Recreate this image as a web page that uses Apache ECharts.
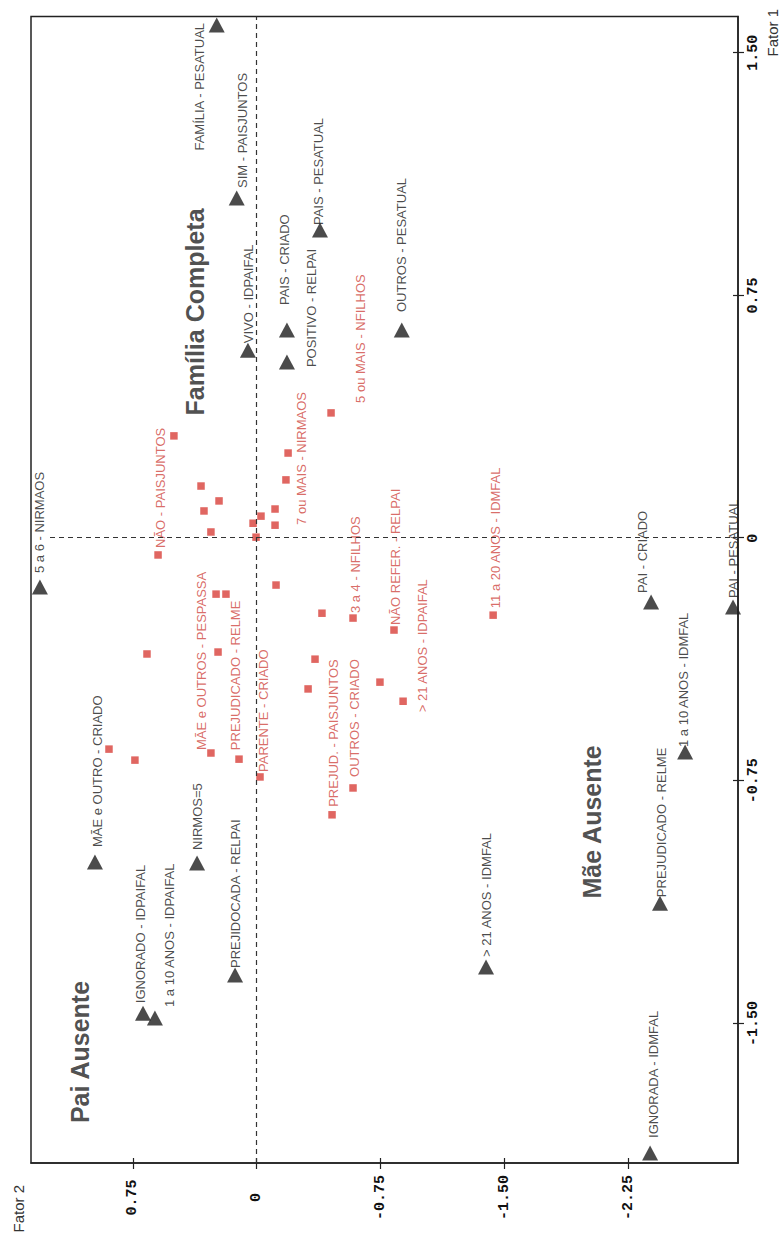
<!DOCTYPE html>
<html><head><meta charset="utf-8">
<script src="https://cdn.jsdelivr.net/npm/echarts@6.0.0/dist/echarts.min.js"></script>
<style>
html,body{margin:0;padding:0;background:#fff;width:782px;height:1241px;overflow:hidden;}
#chart{position:absolute;left:0;top:0;width:1241px;height:782px;transform-origin:0 0;transform:translate(0,1241px) rotate(-90deg);}
</style></head><body><div id="chart"></div>
<script>
// ---- data ----
const fator1Ticks = [-1.5, -0.75, 0, 0.75, 1.5];
const fator2Ticks = [-2.25, -1.5, -0.75, 0, 0.75];

const triangleLabels = ['FAMÍLIA - PESATUAL','SIM - PAISJUNTOS','VIVO - IDPAIFAL','PAIS - CRIADO','POSITIVO - RELPAI','PAIS - PESATUAL','OUTROS - PESATUAL','5 a 6 - NIRMAOS','PAI - CRIADO','PAI - PESATUAL','1 a 10 ANOS - IDMFAL','PREJUDICADO - RELME','> 21 ANOS - IDMFAL','IGNORADA - IDMFAL','MÃE e OUTRO - CRIADO','IGNORADO - IDPAIFAL','1 a 10 ANOS - IDPAIFAL','NIRMOS=5','PREJIDOCADA - RELPAI'];
const triangleFator1 = [1.586,1.051,0.581,0.643,0.544,0.952,0.643,-0.151,-0.197,-0.213,-0.661,-1.128,-1.325,-1.900,-1.001,-1.468,-1.483,-1.004,-1.350];
const triangleFator2 = [0.242,0.121,0.053,-0.183,-0.183,-0.383,-0.878,1.312,-2.387,-2.883,-2.593,-2.441,-1.388,-2.381,0.979,0.688,0.616,0.361,0.131];

const squareLabels = ['','NÃO - PAISJUNTOS','','','','','','','','','','7 ou MAIS - NIRMAOS','','5 ou MAIS - NFILHOS','','','','','','','','','3 a 4 - NFILHOS','NÃO REFER. - RELPAI','11 a 20 ANOS - IDMFAL','','> 21 ANOS - IDPAIFAL','','','MÃE e OUTROS - PESPASSA','PREJUDICADO - RELME','PARENTE - CRIADO','OUTROS - CRIADO','PREJUD. - PAISJUNTOS'];
const squareFator1 = [0.316,-0.052,0.161,0.084,0.115,0.019,0.046,0.068,0.003,0.090,0.040,0.180,0.263,0.387,-0.173,-0.173,-0.145,-0.358,-0.352,-0.232,-0.374,-0.466,-0.247,-0.284,-0.238,-0.445,-0.504,-0.652,-0.686,-0.664,-0.683,-0.738,-0.772,-0.855];
const squareFator2 = [0.501,0.597,0.337,0.319,0.228,0.277,0.022,-0.026,0.004,-0.111,-0.111,-0.177,-0.190,-0.450,0.246,0.186,-0.117,0.664,0.234,-0.395,-0.353,-0.311,-0.583,-0.831,-1.431,-0.746,-0.886,0.894,0.737,0.277,0.107,-0.020,-0.583,-0.456];

const regionLabels = ['Família Completa','Pai Ausente','Mãe Ausente'];
const regionFator1 = [0.699,-1.588,-0.877];
const regionFator2 = [0.373,1.070,-2.030];

// ---- layout (label placement, px in drawing frame) ----
const triangleLabelLayout = [[2,-17,'right'],[10,6],[7,1],[25,-2],[-5,25],[5,-1],[18,0],[14,0],[9,-9],[9,0],[5,-2],[6,1],[10,0],[15,3],[15,3],[10,-3],[11,15],[13,0],[7,0]];
const squareLabelLayout = {
  'NÃO - PAISJUNTOS':[7,2], '7 ou MAIS - NIRMAOS':[-45,16], '5 ou MAIS - NFILHOS':[10,29],
  '3 a 4 - NFILHOS':[5,2], 'NÃO REFER. - RELPAI':[5,1], '11 a 20 ANOS - IDMFAL':[7,2],
  '> 21 ANOS - IDPAIFAL':[-11,19], 'MÃE e OUTROS - PESPASSA':[3,-9], 'PREJUDICADO - RELME':[9,-4],
  'PARENTE - CRIADO':[5,3], 'OUTROS - CRIADO':[11,1], 'PREJUD. - PAISJUNTOS':[8,1]
};

const F1_MIN = -1.931, F1_MAX = 1.612, F2_MIN = -2.913, F2_MAX = 1.366;
const BLACK = '#1e1e1e', RED = '#d8403a', RED_TEXT = '#cf4640';
const labelFont = {fontFamily:'Liberation Sans, Arial, sans-serif', fontSize:13};
const tickFmt = v => (Math.abs(v) < 1e-9 ? '0' : v.toFixed(2));

const triData = triangleLabels.map((n,i) => {
  const L = triangleLabelLayout[i];
  return {name:n, value:[triangleFator1[i], triangleFator2[i]],
    label:{show:true, position:'inside', align:L[2]||'left', verticalAlign:'middle', offset:[L[0],L[1]]}};
});
const sqData = squareLabels.map((n,i) => {
  const L = squareLabelLayout[n];
  const item = {name:n, value:[squareFator1[i], squareFator2[i]]};
  item.label = L ? {show:true, position:'inside', align:'left', verticalAlign:'middle', offset:[L[0],L[1]]} : {show:false};
  return item;
});
const regData = regionLabels.map((n,i) => ({name:n, value:[regionFator1[i], regionFator2[i]]}));

const innerTickAxis = (min, max, pos, ticks) => ({type:'value', min:min, max:max, position:pos, offset:0,
  axisLine:{show:false, onZero:false}, axisLabel:{show:false}, splitLine:{show:false},
  axisTick:{show:true, inside:true, length:5, customValues:ticks, lineStyle:{color:'#222', width:1.2}}});

const chart = echarts.init(document.getElementById('chart'), null, {renderer:'svg'});
chart.setOption({
  animation:false,
  backgroundColor:'#fff',
  grid:{left:78, right:16.5, top:31, bottom:44, show:true, borderColor:'#222', borderWidth:1.5},
  xAxis:[{type:'value', min:F1_MIN, max:F1_MAX, position:'bottom',
    name:'Fator 1', nameLocation:'end', nameGap:-40,
    nameTextStyle:{fontFamily:'Liberation Sans, Arial, sans-serif', fontSize:15, color:'#333', align:'left', verticalAlign:'top', padding:[27,0,0,0]},
    axisLine:{show:true, onZero:false, lineStyle:{color:'#222', width:1.5}},
    axisTick:{show:true, length:6, customValues:fator1Ticks, lineStyle:{color:'#222', width:1.2}},
    axisLabel:{customValues:fator1Ticks, formatter:tickFmt, margin:8, fontFamily:'Liberation Mono, DejaVu Sans Mono, monospace', fontWeight:'bold', fontSize:15, color:'#111'},
    splitLine:{show:false}},
    innerTickAxis(F1_MIN, F1_MAX, 'bottom', fator1Ticks)],
  yAxis:[{type:'value', min:F2_MIN, max:F2_MAX, position:'left',
    name:'Fator 2', nameLocation:'end', nameGap:13,
    nameTextStyle:{fontFamily:'Liberation Sans, Arial, sans-serif', fontSize:15, color:'#333', align:'right', verticalAlign:'middle', padding:[0,22,0,0]},
    axisLine:{show:true, onZero:false, lineStyle:{color:'#222', width:1.5}},
    axisTick:{show:true, length:6, customValues:fator2Ticks, lineStyle:{color:'#222', width:1.2}},
    axisLabel:{customValues:fator2Ticks, formatter:tickFmt, margin:34.5, align:'center', fontFamily:'Liberation Mono, DejaVu Sans Mono, monospace', fontWeight:'bold', fontSize:15, color:'#111'},
    splitLine:{show:false}},
    innerTickAxis(F2_MIN, F2_MAX, 'left', fator2Ticks)],
  series:[
    {type:'scatter', name:'Categorias (quadrado)', symbol:'rect', symbolSize:7.5, itemStyle:{color:RED},
      label:Object.assign({formatter:p=>p.name, color:RED_TEXT}, labelFont),
      data:sqData,
      markLine:{silent:true, symbol:'none', label:{show:false},
        lineStyle:{color:'#333', width:1.2, type:[5,4]},
        data:[[{coord:[0, 1.251]},{coord:[0, F2_MIN]}],[{coord:[F1_MIN, 0]},{coord:[F1_MAX, 0]}]]}},
    {type:'scatter', name:'Categorias (triângulo)', symbol:'triangle', symbolSize:[16,15], symbolRotate:-90, itemStyle:{color:BLACK},
      label:Object.assign({formatter:p=>p.name, color:'#1a1a1a'}, labelFont),
      data:triData},
    {type:'scatter', name:'Grupos', symbolSize:0, silent:true,
      label:{show:true, position:'inside', align:'center', verticalAlign:'middle', formatter:p=>p.name,
        fontFamily:'Liberation Sans, Arial, sans-serif', fontWeight:'bold', fontSize:25, color:'#222'},
      data:regData}
  ]
});
</script></body></html>
